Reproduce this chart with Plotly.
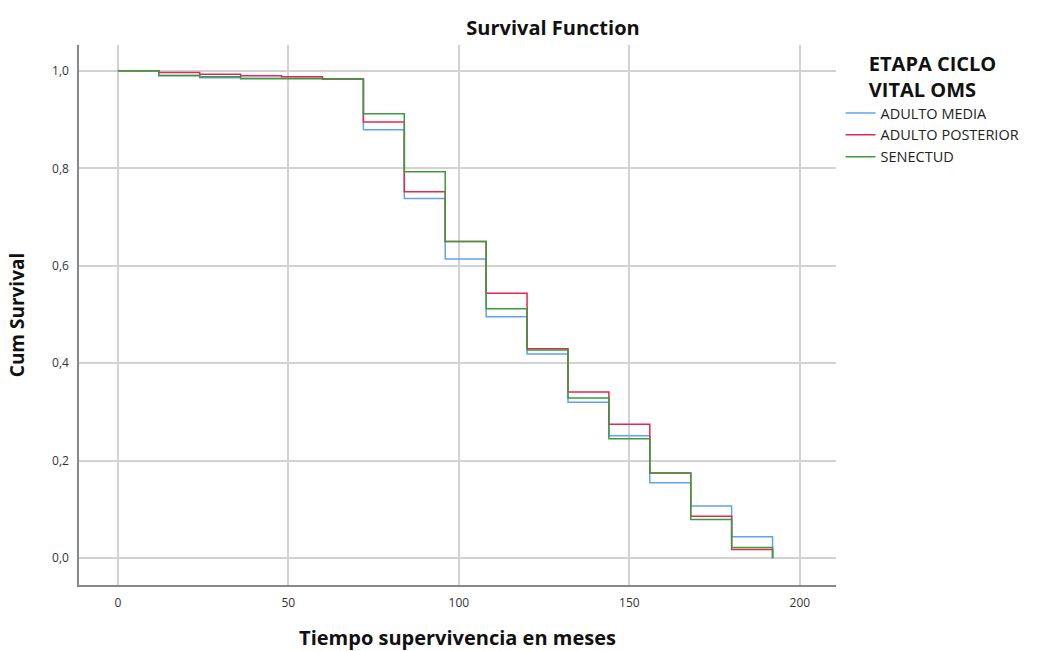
import plotly.graph_objects as go

months = [0, 12, 24, 36, 48, 60, 72, 84, 96, 108, 120, 132, 144, 156, 168, 180, 192]
adulto_media = [1.0, 0.991, 0.986, 0.985, 0.985, 0.983, 0.879, 0.738, 0.614, 0.4955, 0.419, 0.320, 0.251, 0.155, 0.107, 0.044, 0.0]
adulto_posterior = [1.0, 0.9965, 0.993, 0.990, 0.988, 0.983, 0.895, 0.752, 0.650, 0.5435, 0.430, 0.341, 0.275, 0.175, 0.086, 0.018, 0.0]
senectud = [1.0, 0.990, 0.988, 0.984, 0.984, 0.983, 0.912, 0.793, 0.650, 0.512, 0.427, 0.3285, 0.245, 0.175, 0.0795, 0.022, 0.0]

series = [
    ("ADULTO MEDIA", adulto_media, "#62A3EE"),
    ("ADULTO POSTERIOR", adulto_posterior, "#E3284F"),
    ("SENECTUD", senectud, "#3C9B3C"),
]

FONT = "Open Sans"
fig = go.Figure()
for name, vals, col in series:
    fig.add_trace(go.Scatter(x=months, y=vals, mode="lines", name=name,
                             line=dict(color=col, width=1.5, shape="hv")))

fig.update_layout(
    width=1051, height=651,
    margin=dict(l=79, r=215, t=45, b=66),
    paper_bgcolor="white", plot_bgcolor="white",
    separators=", ",
    font=dict(family=FONT, color="#222"),
    title=dict(text="<b>Survival Function</b>", x=553/1051, xanchor="center",
               y=1 - 28/651, yanchor="middle", font=dict(size=20, family=FONT, color="#111")),
    legend=dict(
        x=1.006, xanchor="left", y=1.0, yanchor="top",
        title=dict(text="<b>ETAPA CICLO<br>VITAL OMS</b>", side="top center",
                   font=dict(size=20, family=FONT, color="#111")),
        font=dict(size=14.5, family=FONT, color="#222"),
        tracegroupgap=0, itemwidth=30,
        bgcolor="rgba(0,0,0,0)",
    ),
)
fig.update_xaxes(
    range=[-11.4, 210.6], tickvals=[0, 50, 100, 150, 200],
    showgrid=True, gridcolor="#D2D2D2", gridwidth=2,
    showline=True, linecolor="#888", linewidth=1.5, zeroline=False,
    ticks="outside", ticklen=6, tickcolor="rgba(0,0,0,0)",
    tickfont=dict(size=12, color="#333"), automargin=False,
    title=dict(text="<b>Tiempo supervivencia en meses</b>", font=dict(size=20, color="#111"), standoff=22),
)
fig.update_yaxes(
    range=[-0.055, 1.053], tickvals=[0, 0.2, 0.4, 0.6, 0.8, 1.0], tickformat=".1f",
    showgrid=True, gridcolor="#D2D2D2", gridwidth=2,
    showline=True, linecolor="#888", linewidth=1.5, zeroline=False,
    ticks="outside", ticklen=6, tickcolor="rgba(0,0,0,0)",
    tickfont=dict(size=12, color="#333"), automargin=False,
    title=dict(text="<b>Cum Survival</b>", font=dict(size=19, color="#111"), standoff=22),
)

fig.write_html("out.html")
